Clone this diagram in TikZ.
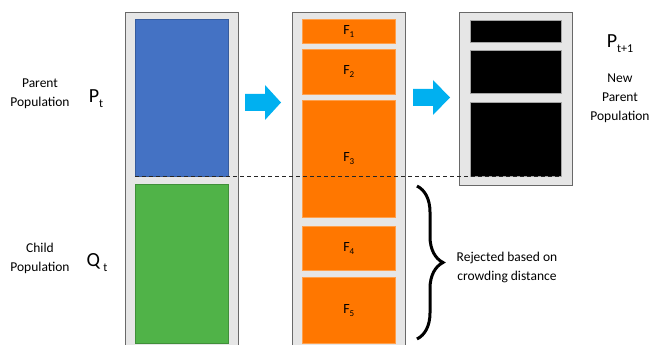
\documentclass[tikz,border=0pt]{standalone}
\usepackage{fontspec}
\setmainfont{Carlito}
\usepackage{tikz}
\usetikzlibrary{decorations.pathreplacing}
\definecolor{colbox}{RGB}{230,230,230}
\definecolor{colframe}{RGB}{105,105,105}
\definecolor{colblue}{RGB}{68,114,196}
\definecolor{colgreen}{RGB}{80,179,72}
\definecolor{colorange}{RGB}{255,119,0}
\definecolor{colarrow}{RGB}{0,176,240}
\newcommand{\popsub}[1]{{\fontsize{12}{12}\selectfont\raisebox{-5pt}{#1}}}
\newcommand{\frontsub}[1]{{\fontsize{9}{9}\selectfont\raisebox{-3pt}{#1}}}
\tikzstyle{popcol}=[draw=colframe,fill=colbox,line width=1.2pt,anchor=north west,inner sep=0pt,minimum width=113pt]
\tikzstyle{part}=[anchor=north west,inner sep=0pt,line width=0.6pt]
\tikzstyle{frontbox}=[part,draw=colorange!70!white,fill=colorange,minimum width=93pt,font=\fontsize{14}{16}\selectfont]
\tikzstyle{newbox}=[part,draw=colframe!60!white,fill=black,minimum width=91pt]
\tikzstyle{poptext}=[align=center,font=\fontsize{13.5}{19}\selectfont]
\tikzstyle{popsym}=[font=\fontsize{20}{22}\selectfont]

\begin{document}
\begin{tikzpicture}[x=1pt,y=-1pt]
\useasboundingbox (0,0) rectangle (654,345);

% columns
\node[popcol, minimum height=337pt] (colA) at (125,12) {};
\node[popcol, minimum height=337pt] (colB) at (292,12) {};
\node[popcol, minimum height=173pt] (colC) at (459,12) {};

% parent and child population
\node[part, draw=colblue!80!black, fill=colblue, minimum width=93pt, minimum height=157pt] (pt) at (135,19) {};
\node[part, draw=colgreen!80!black, fill=colgreen, minimum width=93pt, minimum height=159pt] (qt) at (135,184) {};

% fronts
\node[frontbox, minimum height=24pt] (f1) at (302,19) {F\frontsub{1}};
\node[frontbox, minimum height=45pt] (f2) at (302,49) {F\frontsub{2}};
\node[frontbox, minimum height=117pt] (f3) at (302,100) {F\frontsub{3}};
\node[frontbox, minimum height=44pt] (f4) at (302,226) {F\frontsub{4}};
\node[frontbox, minimum height=66pt] (f5) at (302,277) {F\frontsub{5}};

% new parent population
\node[newbox, minimum height=22pt] (n1) at (470,20) {};
\node[newbox, minimum height=43pt] (n2) at (470,50) {};
\node[newbox, minimum height=74pt] (n3) at (470,102) {};

\draw[dashed, dash pattern=on 4pt off 3pt, line width=1pt, black!85] (pt.south west) -- (n3.south east);

% block arrows
\fill[colarrow] (245,94) -- (265,94) -- (265,85) -- (281,102.5) -- (265,120) -- (265,111) -- (245,111) -- cycle;
\fill[colarrow] (413,89) -- (433,89) -- (433,80) -- (450,97.5) -- (433,115) -- (433,106) -- (413,106) -- cycle;

% brace
\coordinate (bt) at (417,186);
\coordinate (bb) at (417,339);
\draw[decorate, decoration={brace, amplitude=26pt, aspect=0.5}, line width=3pt] (bt) -- (bb);

% labels
\node[poptext] (lp) at (40,94) {Parent\\Population};
\node[popsym] (sp) at (96,99) {P\popsub{t}};
\node[poptext] (lq) at (40,258) {Child\\Population};
\node[popsym] (sq) at (97,263) {Q\,\popsub{t}};
\node[popsym] (sn) at (620,44) {P\popsub{t+1}};
\node[poptext] (ln) at (620,98) {New\\Parent\\Population};
\node[poptext] (lr) at (507,267) {Rejected based on\\crowding distance};
\end{tikzpicture}
\end{document}
